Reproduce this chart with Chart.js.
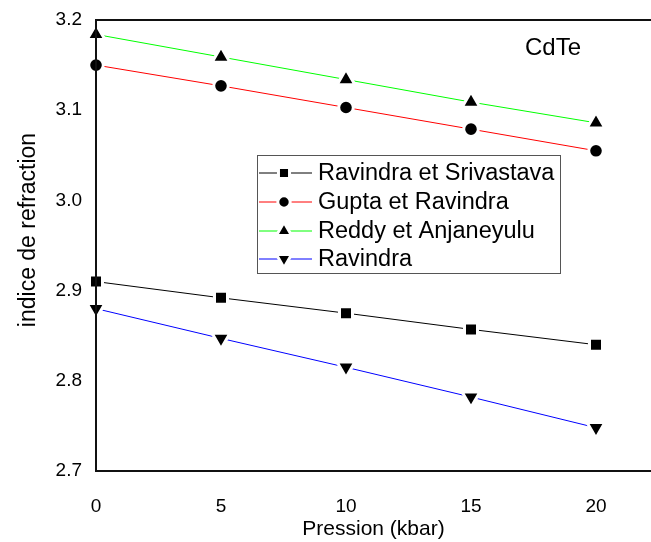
<!DOCTYPE html>
<html>
<head>
<meta charset="utf-8">
<script src="https://cdn.jsdelivr.net/npm/chart.js@4"></script>
<style>
  body { margin: 0; background: #fff; }
</style>
</head>
<body>
<canvas id="chart" width="651" height="542"></canvas>
<script>
const pressions = [0, 5, 10, 15, 20];
const ravindraSrivastava = [2.910, 2.892, 2.875, 2.857, 2.840];
const guptaRavindra = [3.150, 3.127, 3.103, 3.079, 3.055];
const reddyAnjaneyulu = [3.184, 3.159, 3.134, 3.109, 3.086];
const ravindra = [2.880, 2.847, 2.815, 2.782, 2.748];
const xTicks = [0, 5, 10, 15, 20];
const yTicks = [2.7, 2.8, 2.9, 3.0, 3.1, 3.2];
const X_MAX = 22.2;

const FONT = 'Liberation Sans, Arial, sans-serif';

function toPoints(values) {
    return pressions.map((p, i) => ({ x: p, y: values[i] }));
}

// symboles noirs avec un liseré blanc pour couper la ligne autour du symbole
function serie(label, values, color, style, radius, rotation) {
    return {
        label: label,
        data: toPoints(values),
        borderColor: color,
        borderWidth: 1,
        backgroundColor: '#000',
        pointStyle: style,
        pointRadius: radius,
        pointHoverRadius: radius,
        pointRotation: rotation || 0,
        pointBackgroundColor: '#000',
        pointBorderColor: '#fff',
        pointBorderWidth: 3,
        pointHoverBorderWidth: 3,
        tension: 0,
        clip: false
    };
}

const decorPlugin = {
    id: 'decor',
    afterDatasetsDraw(chart) {
        const ctx = chart.ctx;
        const a = chart.chartArea;
        ctx.save();
        // cadre : gauche, bas, haut
        ctx.strokeStyle = '#111';
        ctx.lineWidth = 2;
        ctx.beginPath();
        ctx.moveTo(a.right, a.top);
        ctx.lineTo(a.left, a.top);
        ctx.lineTo(a.left, a.bottom);
        ctx.lineTo(a.right, a.bottom);
        ctx.stroke();
        ctx.restore();
    },
    afterDraw(chart) {
        const ctx = chart.ctx;
        ctx.save();
        ctx.fillStyle = '#000';

        // titre de l'axe y (un peu au-dessus du centre, comme l'original)
        ctx.save();
        ctx.translate(29, 230);
        ctx.rotate(-Math.PI / 2);
        ctx.font = '23px ' + FONT;
        ctx.textAlign = 'center';
        ctx.textBaseline = 'middle';
        ctx.fillText('indice de refraction', 0, 0);
        ctx.restore();

        // titre
        ctx.font = '24px ' + FONT;
        ctx.textAlign = 'center';
        ctx.textBaseline = 'middle';
        ctx.fillText('CdTe', 553, 48);

        // legende
        const box = { x: 257, y: 155, w: 303, h: 118 };
        ctx.strokeStyle = '#555';
        ctx.lineWidth = 1;
        ctx.strokeRect(box.x + 0.5, box.y + 0.5, box.w, box.h);

        const rows = [173, 202, 231, 259];
        ctx.font = '23.5px ' + FONT;
        ctx.textAlign = 'left';
        chart.data.datasets.forEach((ds, i) => {
            const y = rows[i];
            ctx.strokeStyle = ds.borderColor;
            ctx.lineWidth = 1;
            ctx.beginPath();
            ctx.moveTo(259, y);
            ctx.lineTo(312, y);
            ctx.stroke();
            ctx.fillStyle = '#000';
            ctx.strokeStyle = '#fff';
            ctx.lineWidth = 3;
            Chart.helpers.drawPoint(ctx, {
                pointStyle: ds.pointStyle,
                radius: ds.pointRadius * 0.85,
                rotation: ds.pointRotation,
                borderWidth: 3
            }, 284, y);
            ctx.fillStyle = '#000';
            ctx.fillText(ds.label, 318, y + 1);
        });
        ctx.restore();
    }
};

new Chart(document.getElementById('chart').getContext('2d'), {
    type: 'line',
    data: {
        datasets: [
            serie('Ravindra et Srivastava', ravindraSrivastava, '#000000', 'rect', 9.2),
            serie('Gupta et Ravindra', guptaRavindra, '#ff0000', 'circle', 7.3),
            serie('Reddy et Anjaneyulu', reddyAnjaneyulu, '#00ff00', 'triangle', 10.3),
            serie('Ravindra', ravindra, '#0000ff', 'triangle', 10.3, 180)
        ]
    },
    options: {
        responsive: false,
        animation: false,
        layout: {
            autoPadding: false,
            padding: { top: 20, right: 0, left: 0, bottom: 0 }
        },
        scales: {
            x: {
                type: 'linear',
                min: 0,
                max: X_MAX,
                // tick vide au bord droit : pas de marge ajoutée pour le dernier libellé
                afterBuildTicks: scale => {
                    scale.ticks = xTicks.map(v => ({ value: v })).concat([{ value: X_MAX }]);
                },
                afterFit: scale => {
                    scale.height = 71;
                    scale.paddingLeft = 0;
                    scale.paddingRight = 0;
                },
                // l'écart libellé/axe passe par tickLength (grille cachée)
                grid: { display: false, drawTicks: true, tickLength: 24 },
                border: { display: false },
                ticks: {
                    color: '#000',
                    padding: 0,
                    maxRotation: 0,
                    font: { family: FONT, size: 19 },
                    callback: v => (xTicks.includes(v) ? String(v) : '')
                },
                title: {
                    display: true,
                    text: 'Pression (kbar)',
                    color: '#000',
                    padding: { top: 0, bottom: 0 },
                    font: { family: FONT, size: 21 }
                }
            },
            y: {
                min: 2.7,
                max: 3.2,
                afterBuildTicks: scale => {
                    scale.ticks = yTicks.map(v => ({ value: v }));
                },
                afterFit: scale => {
                    scale.width = 96;
                    scale.paddingTop = 0;
                    scale.paddingBottom = 0;
                },
                grid: { display: false, drawTicks: true, tickLength: 14 },
                border: { display: false },
                ticks: {
                    color: '#000',
                    padding: 0,
                    font: { family: FONT, size: 19 },
                    callback: v => v.toFixed(1)
                },
                title: { display: false }
            }
        },
        plugins: {
            legend: { display: false },
            tooltip: { enabled: false }
        }
    },
    plugins: [decorPlugin]
});
</script>
</body>
</html>
